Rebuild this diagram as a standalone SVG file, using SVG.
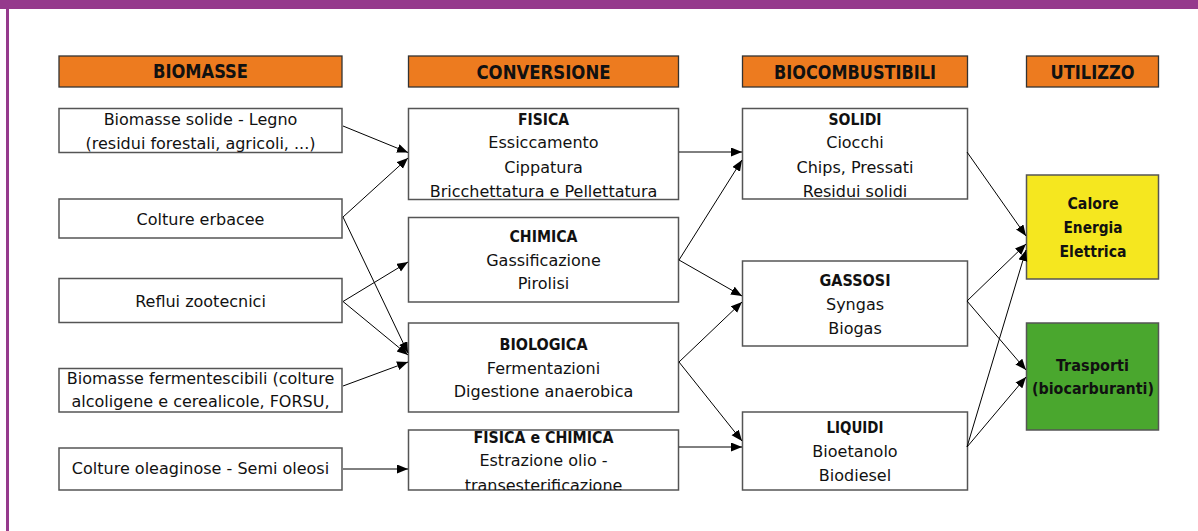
<svg xmlns="http://www.w3.org/2000/svg" width="1198" height="531" viewBox="0 0 1198 531">
<style>
.box{fill:#fff;stroke:#555;stroke-width:1.5}
.hdr{fill:#ED7B1F;stroke:#333;stroke-width:1.3}
.t{font-family:"DejaVu Sans",Verdana,sans-serif;font-size:16px;fill:#111;text-anchor:middle}
.b{font-family:"DejaVu Sans Condensed","DejaVu Sans",sans-serif;font-stretch:condensed;font-weight:bold;font-size:16px;fill:#111;text-anchor:middle}
.h{font-family:"DejaVu Sans Condensed","DejaVu Sans",sans-serif;font-stretch:condensed;font-weight:bold;font-size:19px;fill:#111;text-anchor:middle}
.c{fill:none;stroke:#000;stroke-width:1;marker-end:url(#ah)}
</style>
<defs>
<marker id="ah" markerUnits="userSpaceOnUse" markerWidth="12" markerHeight="10" refX="11" refY="4.5" orient="auto">
<path d="M0,0 L11,4.5 L0,9 z" fill="#000"/>
</marker>
<clipPath id="cl1"><rect x="59" y="108" width="283" height="44"/></clipPath>
<clipPath id="cl4"><rect x="59" y="368" width="283" height="44"/></clipPath>
<clipPath id="cm4"><rect x="408" y="430" width="271" height="60"/></clipPath>
</defs>
<rect x="0" y="0" width="1198" height="9" fill="#953A8C"/>
<rect x="6" y="0" width="3" height="531" fill="#953A8C"/>

<g id="h-biomasse"><rect class="hdr" x="59" y="56" width="283" height="31"/><text class="h" x="200.5" y="78.3" textLength="95" lengthAdjust="spacingAndGlyphs">BIOMASSE</text></g>
<g id="h-conversione"><rect class="hdr" x="408.5" y="56" width="270" height="31"/><text class="h" x="543.5" y="78.5" textLength="134" lengthAdjust="spacingAndGlyphs">CONVERSIONE</text></g>
<g id="h-biocombustibili"><rect class="hdr" x="742.5" y="56" width="225" height="31"/><text class="h" x="855" y="78.5" textLength="162" lengthAdjust="spacingAndGlyphs">BIOCOMBUSTIBILI</text></g>
<g id="h-utilizzo"><rect class="hdr" x="1026.5" y="56" width="132" height="31"/><text class="h" x="1092.5" y="78.5" textLength="84" lengthAdjust="spacingAndGlyphs">UTILIZZO</text></g>

<g id="n-legno"><rect class="box" x="59" y="108.5" width="283" height="44"/><g clip-path="url(#cl1)"><text class="t" x="200.5" y="125">Biomasse solide - Legno</text><text class="t" x="200.5" y="148.5">(residui forestali, agricoli, ...)</text></g></g>
<g id="n-erbacee"><rect class="box" x="59" y="199" width="283" height="39"/><text class="t" x="200.5" y="225">Colture erbacee</text></g>
<g id="n-reflui"><rect class="box" x="59" y="278.5" width="283" height="44"/><text class="t" x="200.5" y="306.7">Reflui zootecnici</text></g>
<g id="n-ferment"><rect class="box" x="59" y="368.5" width="283" height="43.5"/><g clip-path="url(#cl4)"><text class="t" x="200.5" y="384.3">Biomasse fermentescibili (colture</text><text class="t" x="200.5" y="407">alcoligene e cerealicole, FORSU,</text></g></g>
<g id="n-oleaginose"><rect class="box" x="59" y="448" width="283" height="42"/><text class="t" x="200.5" y="474.3">Colture oleaginose - Semi oleosi</text></g>

<g id="n-fisica"><rect class="box" x="408.5" y="108.5" width="270" height="91"/><text class="b" x="543.5" y="124.7" textLength="51" lengthAdjust="spacingAndGlyphs">FISICA</text><text class="t" x="543.5" y="148.3">Essiccamento</text><text class="t" x="543.5" y="172.5">Cippatura</text><text class="t" x="543.5" y="196.7">Bricchettatura e Pellettatura</text></g>
<g id="n-chimica"><rect class="box" x="408.5" y="217.5" width="270" height="84.5"/><text class="b" x="543.5" y="242" textLength="68" lengthAdjust="spacingAndGlyphs">CHIMICA</text><text class="t" x="543.5" y="266">Gassificazione</text><text class="t" x="543.5" y="289.3">Pirolisi</text></g>
<g id="n-biologica"><rect class="box" x="408.5" y="323" width="270" height="89"/><text class="b" x="543.5" y="350" textLength="88" lengthAdjust="spacingAndGlyphs">BIOLOGICA</text><text class="t" x="543.5" y="374">Fermentazioni</text><text class="t" x="543.5" y="397.3">Digestione anaerobica</text></g>
<g id="n-fisicachimica"><rect class="box" x="408.5" y="430" width="270" height="60"/><g clip-path="url(#cm4)"><text class="b" x="543.5" y="442.7" textLength="140" lengthAdjust="spacingAndGlyphs">FISICA e CHIMICA</text><text class="t" x="543.5" y="466.3">Estrazione olio -</text><text class="t" x="543.5" y="491">transesterificazione</text></g></g>

<g id="n-solidi"><rect class="box" x="742.5" y="108.5" width="225" height="90.5"/><text class="b" x="855" y="125" textLength="53" lengthAdjust="spacingAndGlyphs">SOLIDI</text><text class="t" x="855" y="148.3">Ciocchi</text><text class="t" x="855" y="172.7">Chips, Pressati</text><text class="t" x="855" y="196.7">Residui solidi</text></g>
<g id="n-gassosi"><rect class="box" x="742.5" y="261" width="225" height="85"/><text class="b" x="855" y="286" textLength="71" lengthAdjust="spacingAndGlyphs">GASSOSI</text><text class="t" x="855" y="310">Syngas</text><text class="t" x="855" y="334">Biogas</text></g>
<g id="n-liquidi"><rect class="box" x="742.5" y="412" width="225" height="78"/><text class="b" x="855" y="433.3" textLength="57" lengthAdjust="spacingAndGlyphs">LIQUIDI</text><text class="t" x="855" y="456.7">Bioetanolo</text><text class="t" x="855" y="480.7">Biodiesel</text></g>

<g id="n-calore"><rect x="1026.5" y="175" width="132" height="104" fill="#F5E71F" stroke="#555" stroke-width="1.5"/><text class="b" x="1093" y="209.3" textLength="51" lengthAdjust="spacingAndGlyphs">Calore</text><text class="b" x="1093" y="233.3" textLength="59" lengthAdjust="spacingAndGlyphs">Energia</text><text class="b" x="1093" y="257.3" textLength="67" lengthAdjust="spacingAndGlyphs">Elettrica</text></g>
<g id="n-trasporti"><rect x="1026.5" y="323" width="132" height="107" fill="#4AA72E" stroke="#555" stroke-width="1.5"/><text class="b" x="1092.5" y="371" textLength="73" lengthAdjust="spacingAndGlyphs">Trasporti</text><text class="b" x="1093" y="394" textLength="122" lengthAdjust="spacingAndGlyphs">(biocarburanti)</text></g>

<g id="connectors">
<line class="c" x1="343" y1="126" x2="408" y2="152.5"/>
<line class="c" x1="343" y1="217" x2="408" y2="158"/>
<line class="c" x1="343" y1="217" x2="408" y2="353"/>
<line class="c" x1="343" y1="301.5" x2="408" y2="262"/>
<line class="c" x1="343" y1="301.5" x2="408" y2="355"/>
<line class="c" x1="343" y1="386" x2="408" y2="362"/>
<line class="c" x1="343" y1="469" x2="408" y2="469"/>
<line class="c" x1="679" y1="152" x2="742" y2="152"/>
<line class="c" x1="679" y1="260" x2="742" y2="160"/>
<line class="c" x1="679" y1="260" x2="742" y2="296"/>
<line class="c" x1="679" y1="362" x2="742" y2="302"/>
<line class="c" x1="679" y1="362" x2="742" y2="441"/>
<line class="c" x1="679" y1="447" x2="742" y2="447"/>
<line class="c" x1="967" y1="152" x2="1026" y2="236"/>
<line class="c" x1="967" y1="301" x2="1026" y2="244"/>
<line class="c" x1="967" y1="301" x2="1026" y2="370"/>
<line class="c" x1="967" y1="447" x2="1026" y2="250"/>
<line class="c" x1="967" y1="447" x2="1026" y2="377"/>
</g>
</svg>
